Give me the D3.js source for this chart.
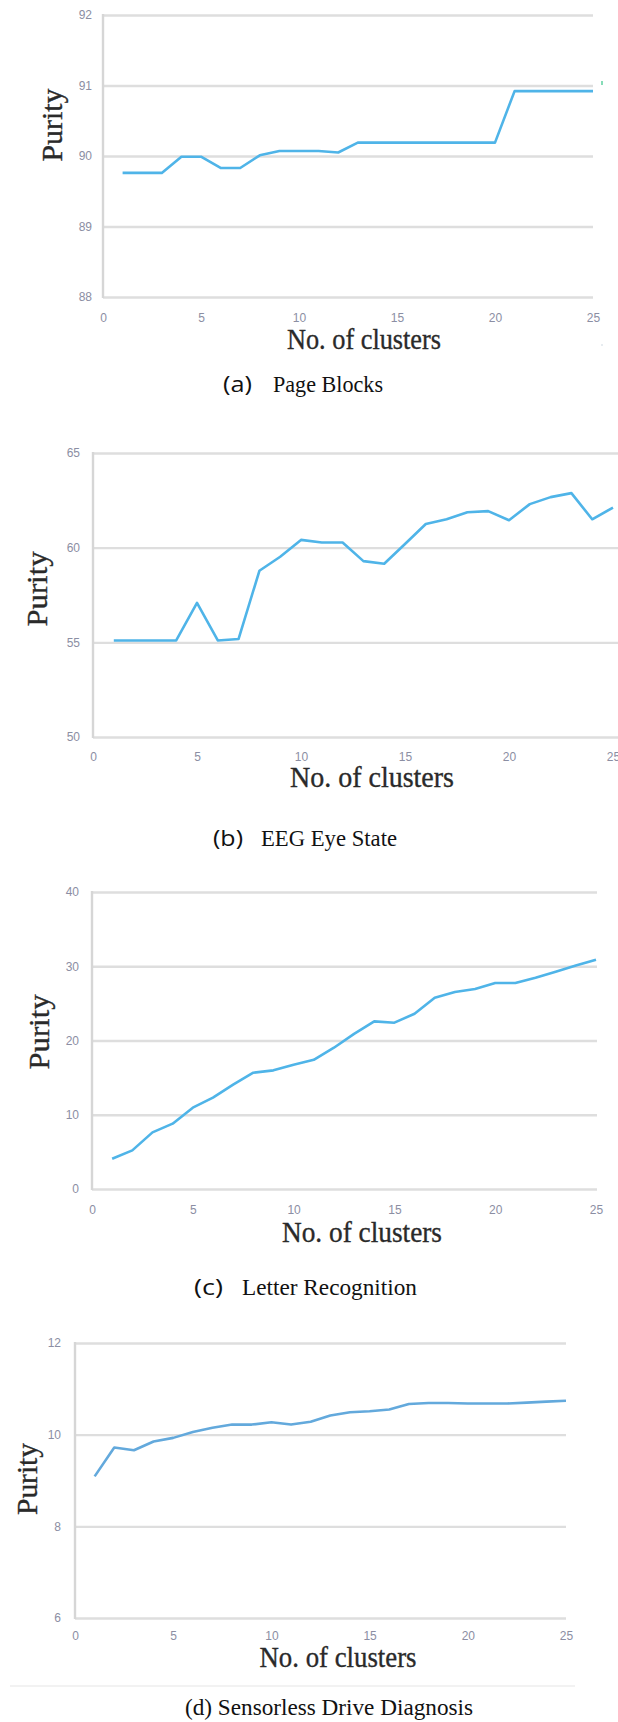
<!DOCTYPE html>
<html>
<head>
<meta charset="utf-8">
<script src="https://cdn.jsdelivr.net/npm/d3@7"></script>
<style>
  body { margin: 0; background: #fff; }
  svg { display: block; }
  .tick text { font-family: "Liberation Sans", Arial, sans-serif; font-size: 12px; fill: #8b8ea3; }
  .title { font-family: "Liberation Serif", "Times New Roman", serif; fill: #2a2a2a; stroke: #2a2a2a; stroke-width: 0.35px; }
  .caption { font-family: "Liberation Serif", "Times New Roman", serif; fill: #111; }
  .caption-tag { font-family: "Open Sans", "Noto Sans", sans-serif; fill: #111; }
</style>
</head>
<body>
<svg id="chart" width="618" height="1722"></svg>
<script>
// Number of clusters (shared x values)
const clusterCounts = [1, 2, 3, 4, 5, 6, 7, 8, 9, 10, 11, 12, 13, 14, 15, 16, 17, 18, 19, 20, 21, 22, 23, 24, 25];
const xTickValues = [0, 5, 10, 15, 20, 25];

// (a) Page Blocks
const pageBlocksPurity = [89.76, 89.76, 89.76, 89.99, 89.99, 89.83, 89.83, 90.01, 90.07, 90.07, 90.07, 90.05, 90.19,
  90.19, 90.19, 90.19, 90.19, 90.19, 90.19, 90.19, 90.92, 90.92, 90.92, 90.92, 90.92];
const pageBlocksTicks = [88, 89, 90, 91, 92];

// (b) EEG Eye State
const eegPurity = [55.1, 55.1, 55.1, 55.1, 57.08, 55.1, 55.18, 58.78, 59.52, 60.41, 60.27, 60.27, 59.29, 59.15,
  60.19, 61.25, 61.5, 61.87, 61.93, 61.45, 62.3, 62.67, 62.88, 61.5, 62.12];
const eegTicks = [50, 55, 60, 65];

// (c) Letter Recognition
const letterPurity = [4.08, 5.2, 7.63, 8.8, 10.95, 12.3, 14.05, 15.66, 15.98, 16.74, 17.4, 19.03, 20.9, 22.58,
  22.4, 23.6, 25.76, 26.53, 26.93, 27.74, 27.74, 28.46, 29.26, 30.1, 30.88];
const letterTicks = [0, 10, 20, 30, 40];

// (d) Sensorless Drive Diagnosis
const sensorlessPurity = [9.09, 9.72, 9.66, 9.85, 9.93, 10.06, 10.15, 10.22, 10.22, 10.27, 10.22, 10.28, 10.42,
  10.49, 10.51, 10.55, 10.67, 10.69, 10.69, 10.68, 10.68, 10.68, 10.7, 10.72, 10.74];
const sensorlessTicks = [6, 8, 10, 12];

const axisTitleX = "No. of clusters";
const axisTitleY = "Purity";

// Layout of the four stacked panels
const panels = [
  { values: pageBlocksPurity, yTicks: pageBlocksTicks, tag: "(a)", name: "Page Blocks",
    left: 103, right: 593, gridRight: 593, top: 15, bottom: 297, yPad: 11, xPad: 16.5,
    yTitle: { x: 62, y: 125, len: 73 }, xTitle: { x: 364, y: 349, len: 154 },
    cap: { tagX: 223, tagLen: 29, nameX: 273, nameLen: 110, y: 392 }, color: "#4fb4e8" },
  { values: eegPurity, yTicks: eegTicks, tag: "(b)", name: "EEG Eye State",
    left: 93, right: 613, gridRight: 618, top: 453, bottom: 737, yPad: 13, xPad: 15.5,
    yTitle: { x: 47, y: 589, len: 75 }, xTitle: { x: 372, y: 787, len: 164 },
    cap: { tagX: 213, tagLen: 30, nameX: 261, nameLen: 136, y: 846 }, color: "#4fb4e8" },
  { values: letterPurity, yTicks: letterTicks, tag: "(c)", name: "Letter Recognition",
    left: 92, right: 596, gridRight: 597, top: 892, bottom: 1189, yPad: 13, xPad: 16.5,
    yTitle: { x: 49, y: 1032, len: 75 }, xTitle: { x: 362, y: 1242, len: 160 },
    cap: { tagX: 194, tagLen: 29, nameX: 242, nameLen: 175, y: 1295 }, color: "#4fb4e8" },
  { values: sensorlessPurity, yTicks: sensorlessTicks, tag: "(d)", name: "Sensorless Drive Diagnosis",
    left: 75, right: 566, gridRight: 566, top: 1343, bottom: 1618, yPad: 14, xPad: 13.5,
    yTitle: { x: 37, y: 1479, len: 72 }, xTitle: { x: 338, y: 1667, len: 157 },
    cap: null, color: "#63a9dc" }
];

const svg = d3.select("#chart");
const intFormat = d3.format("d");

panels.forEach(p => {
  const x = d3.scaleLinear().domain([xTickValues[0], xTickValues[xTickValues.length - 1]]).range([p.left, p.right]);
  const y = d3.scaleLinear().domain([p.yTicks[0], p.yTicks[p.yTicks.length - 1]]).range([p.bottom, p.top]);
  const g = svg.append("g");

  // horizontal gridlines + y tick labels
  const yAxis = g.append("g")
    .attr("transform", `translate(${p.left},0)`)
    .call(d3.axisLeft(y).tickValues(p.yTicks).tickFormat(intFormat).tickSize(0).tickPadding(p.yPad));
  yAxis.select(".domain").remove();
  yAxis.selectAll(".tick").append("line")
    .attr("x1", 0).attr("x2", p.gridRight - p.left)
    .attr("stroke", "#dedede").attr("stroke-width", 2.4);

  // left axis line
  g.append("line")
    .attr("x1", p.left).attr("x2", p.left)
    .attr("y1", y(p.yTicks[p.yTicks.length - 1]) - 1).attr("y2", p.bottom + 1)
    .attr("stroke", "#d6d6d6").attr("stroke-width", 2.4);

  // x tick labels
  const xAxis = g.append("g")
    .attr("transform", `translate(0,${p.bottom})`)
    .call(d3.axisBottom(x).tickValues(xTickValues).tickFormat(intFormat).tickSize(0).tickPadding(p.xPad));
  xAxis.select(".domain").remove();

  // data line
  const line = d3.line().x((d, i) => x(clusterCounts[i])).y(d => y(d));
  g.append("path")
    .datum(p.values)
    .attr("fill", "none")
    .attr("stroke", p.color)
    .attr("stroke-width", 2.6)
    .attr("stroke-linejoin", "round")
    .attr("d", line);

  // axis titles
  g.append("text").attr("class", "title")
    .attr("transform", `translate(${p.yTitle.x},${p.yTitle.y}) rotate(-90)`)
    .attr("text-anchor", "middle")
    .attr("font-size", 29)
    .attr("textLength", p.yTitle.len).attr("lengthAdjust", "spacingAndGlyphs")
    .text(axisTitleY);
  g.append("text").attr("class", "title")
    .attr("x", p.xTitle.x).attr("y", p.xTitle.y)
    .attr("text-anchor", "middle")
    .attr("font-size", 29)
    .attr("textLength", p.xTitle.len).attr("lengthAdjust", "spacingAndGlyphs")
    .text(axisTitleX);

  // caption
  if (p.cap) {
    g.append("text").attr("class", "caption-tag")
      .attr("x", p.cap.tagX).attr("y", p.cap.y)
      .attr("font-size", 22)
      .attr("textLength", p.cap.tagLen).attr("lengthAdjust", "spacingAndGlyphs")
      .text(p.tag);
    g.append("text").attr("class", "caption")
      .attr("x", p.cap.nameX).attr("y", p.cap.y)
      .attr("font-size", 22.5)
      .attr("textLength", p.cap.nameLen).attr("lengthAdjust", "spacingAndGlyphs")
      .text(p.name);
  }
});

// small stray marks at the right edge of panel (a)
svg.append("line").attr("x1", 602).attr("x2", 602).attr("y1", 81).attr("y2", 85)
  .attr("stroke", "#5fd0a0").attr("stroke-width", 1.5);
svg.append("circle").attr("cx", 602).attr("cy", 345).attr("r", 0.8).attr("fill", "#c8d4dc");

// rule above the last caption
svg.append("line").attr("x1", 10).attr("x2", 575).attr("y1", 1686).attr("y2", 1686)
  .attr("stroke", "#eeeeee").attr("stroke-width", 1.5);

// caption of panel (d), set in one run
svg.append("text").attr("class", "caption")
  .attr("x", 329).attr("y", 1715)
  .attr("text-anchor", "middle")
  .attr("font-size", 23)
  .attr("textLength", 288).attr("lengthAdjust", "spacingAndGlyphs")
  .text(`${panels[3].tag} ${panels[3].name}`);
</script>
</body>
</html>
